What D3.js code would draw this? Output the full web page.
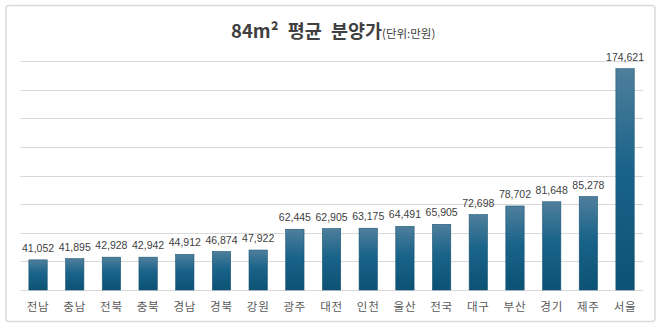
<!DOCTYPE html>
<html><head><meta charset="utf-8">
<script src="https://cdn.jsdelivr.net/npm/d3@7"></script>
<style>html,body{margin:0;padding:0;background:#fff;}svg{display:block;}</style>
</head><body>
<svg id="c" width="658" height="326"></svg>
<script>
const categories = ["전남","충남","전북","충북","경남","경북","강원","광주","대전","인천","울산","전국","대구","부산","경기","제주","서울"];
const values = [41052,41895,42928,42942,44912,46874,47922,62445,62905,63175,64491,65905,72698,78702,81648,85278,174621];
const gridTicks = [20000,40000,60000,80000,100000,120000,140000,160000,180000];

const svg = d3.select("#c");
const defs = svg.append("defs");
const g = defs.append("linearGradient").attr("id","bg").attr("x1",0).attr("y1",0).attr("x2",0).attr("y2",1);
g.append("stop").attr("offset","0%").attr("stop-color","#4f7f9c");
g.append("stop").attr("offset","45%").attr("stop-color","#1a6389");
g.append("stop").attr("offset","100%").attr("stop-color","#0b5274");

svg.append("rect").attr("x",6).attr("y",5.5).attr("width",649).attr("height",316)
  .attr("rx",3).attr("fill","#fff").attr("stroke","#d9d9d9").attr("stroke-width",1.5);

const x = d3.scaleBand().domain(categories).range([19.7,643.4]).paddingInner(0.5).paddingOuter(0.25);
const y = d3.scaleLinear().domain([20000,180000]).range([290,61]);

svg.append("g").selectAll("line").data(gridTicks).join("line")
  .attr("x1",20).attr("x2",643).attr("y1",d=>Math.round(y(d))+0.5).attr("y2",d=>Math.round(y(d))+0.5)
  .attr("stroke","#d9d9d9").attr("stroke-width",1);

svg.append("g").selectAll("rect").data(values).join("rect")
  .attr("x",(d,i)=>x(categories[i]))
  .attr("y",d=>y(d))
  .attr("width",x.bandwidth())
  .attr("height",d=>y(20000)-y(d))
  .attr("fill","url(#bg)")
  .attr("stroke","#1c5675").attr("stroke-width",0.6);

svg.append("g").selectAll("text").data(values).join("text")
  .attr("x",(d,i)=>x(categories[i])+x.bandwidth()/2)
  .attr("y",d=>y(d)-8)
  .attr("text-anchor","middle")
  .attr("font-family","'Liberation Sans', Arial, sans-serif")
  .attr("font-size",10.5).attr("fill","#404040")
  .text(d=>d3.format(",")(d));

svg.append("g").selectAll("text").data(categories).join("text")
  .attr("x",d=>x(d)+x.bandwidth()/2)
  .attr("y",311)
  .attr("text-anchor","middle")
  .attr("font-family","'Noto Sans CJK KR', sans-serif")
  .attr("font-size",11.5).attr("letter-spacing",0.8).attr("fill","#595959")
  .text(d=>d);

const t = svg.append("text").attr("x",231).attr("y",38)
  .attr("font-family","'Noto Sans CJK KR', sans-serif").attr("fill","#404040");
t.append("tspan").attr("font-size",18.5).attr("font-weight","bold").attr("word-spacing",5).text("84m² 평균 분양가");
t.append("tspan").attr("font-size",11.5).text("(단위:만원)");
</script>
</body></html>
